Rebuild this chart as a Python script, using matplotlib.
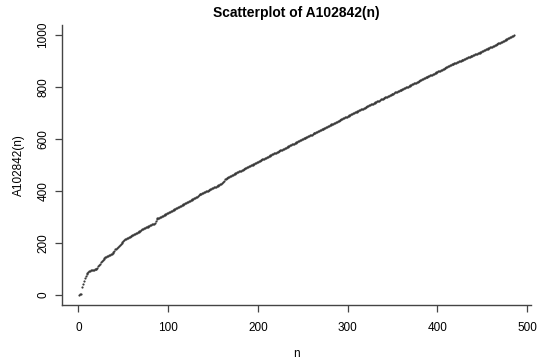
import numpy as np
import matplotlib
matplotlib.use("Agg")
import matplotlib.pyplot as plt

plt.rcParams['font.family'] = ['Liberation Sans', 'DejaVu Sans']

# A102842(n), n = 1..485
values = [
    0, 1, 3, 28, 40, 52, 63, 72, 80, 85,
    88, 90, 92, 93, 94, 95, 96, 97, 98, 100,
    104, 109, 114, 119, 124, 129, 133, 137, 141, 144,
    146, 148, 150, 152, 154, 156, 158, 162, 166, 170,
    174, 177, 180, 183, 186, 191, 196, 200, 204, 208,
    211, 213, 215, 217, 219, 221, 223, 225, 227, 229,
    231, 233, 235, 237, 239, 241, 243, 245, 247, 249,
    251, 253, 255, 257, 259, 261, 262, 264, 266, 268,
    270, 271, 272, 274, 276, 284, 292, 294, 296, 297,
    299, 300, 302, 304, 305, 307, 309, 311, 313, 315,
    317, 319, 321, 323, 325, 327, 329, 331, 333, 335,
    337, 339, 340, 342, 344, 346, 348, 350, 352, 354,
    356, 358, 360, 362, 364, 366, 368, 370, 372, 374,
    376, 378, 381, 384, 386, 388, 389, 391, 393, 394,
    396, 398, 400, 401, 403, 405, 406, 408, 410, 411,
    413, 415, 416, 418, 420, 421, 423, 425, 427, 430,
    434, 439, 444, 447, 449, 451, 453, 455, 457, 458,
    460, 462, 464, 466, 468, 469, 471, 473, 475, 476,
    478, 480, 482, 483, 485, 487, 489, 490, 492, 494,
    496, 498, 500, 501, 503, 505, 507, 508, 510, 512,
    514, 516, 517, 519, 521, 523, 524, 526, 528, 530,
    531, 533, 535, 537, 538, 540, 542, 544, 545, 547,
    549, 551, 552, 554, 556, 558, 559, 561, 563, 565,
    566, 568, 570, 572, 574, 575, 577, 579, 581, 582,
    584, 586, 588, 589, 591, 593, 595, 596, 598, 600,
    602, 603, 605, 607, 609, 610, 612, 614, 616, 617,
    619, 621, 623, 624, 626, 628, 630, 631, 633, 635,
    637, 638, 640, 642, 644, 645, 647, 649, 651, 652,
    654, 656, 658, 659, 661, 663, 665, 666, 668, 670,
    672, 674, 676, 678, 680, 681, 683, 685, 686, 688,
    690, 692, 693, 695, 697, 698, 700, 702, 704, 705,
    707, 709, 710, 712, 714, 716, 717, 719, 721, 722,
    724, 726, 728, 729, 731, 733, 734, 736, 738, 740,
    741, 743, 745, 746, 748, 750, 752, 753, 755, 757,
    758, 760, 762, 763, 765, 767, 769, 770, 772, 774,
    775, 777, 779, 780, 782, 784, 785, 787, 789, 790,
    792, 794, 795, 797, 799, 800, 802, 804, 805, 807,
    809, 810, 812, 814, 815, 817, 819, 820, 822, 824,
    826, 827, 829, 831, 833, 835, 837, 838, 840, 842,
    844, 845, 847, 848, 850, 851, 853, 854, 856, 858,
    860, 862, 863, 865, 867, 869, 870, 872, 874, 876,
    878, 880, 882, 884, 885, 887, 888, 890, 891, 893,
    894, 896, 897, 899, 900, 902, 903, 905, 906, 908,
    909, 911, 912, 914, 915, 917, 918, 920, 921, 923,
    924, 926, 927, 929, 930, 932, 933, 935, 936, 938,
    940, 941, 943, 945, 946, 948, 950, 951, 953, 955,
    956, 958, 960, 961, 963, 965, 966, 968, 970, 971,
    973, 975, 977, 979, 980, 982, 984, 985, 987, 989,
    991, 993, 995, 997, 999,
]
n = np.arange(1, len(values) + 1)

x_ticks = [0, 100, 200, 300, 400, 500]
y_ticks = [0, 200, 400, 600, 800, 1000]

fig = plt.figure(figsize=(5.4, 3.62), dpi=100)
ax = fig.add_axes([0.1148, 0.1575, 0.9833 - 0.1148, 0.9309 - 0.1575])

ax.plot(n, values, linestyle='none', marker='o', markersize=1.3,
        color='#3a3a3a', markeredgewidth=0.2)

# R style ranges: 4% padding
xr = n.max() - n.min()
yr = max(values) - min(values)
ax.set_xlim(n.min() - 0.04 * xr, n.max() + 0.04 * xr)
ax.set_ylim(min(values) - 0.04 * yr, max(values) + 0.04 * yr)

ax.spines['top'].set_visible(False)
ax.spines['right'].set_visible(False)
for s in ['left', 'bottom']:
    ax.spines[s].set_color('#444444')
    ax.spines[s].set_linewidth(1.0)

ax.set_xticks(x_ticks)
ax.set_yticks(y_ticks)
ax.tick_params(axis='both', length=5, width=0.9, color='#444444',
               labelsize=8.5)
ax.tick_params(axis='x', pad=7)
ax.tick_params(axis='y', pad=4)
plt.setp(ax.get_yticklabels(), rotation=90, va='center')

ax.set_xlabel('n', fontsize=8.5, labelpad=10)
ax.set_ylabel('A102842(n)', fontsize=8.5, labelpad=9)
ax.set_title('Scatterplot of A102842(n)', fontsize=10, fontweight='bold', pad=6)

fig.savefig('out.png', dpi=100)
